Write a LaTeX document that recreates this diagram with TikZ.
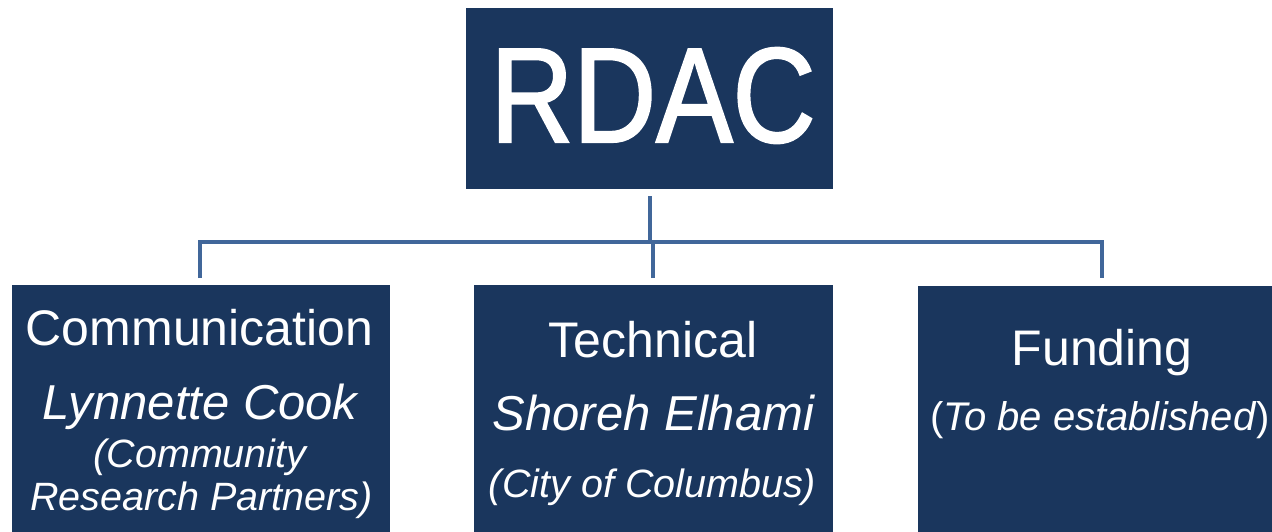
\documentclass[tikz,border=0pt]{standalone}
\usepackage{fontspec}
\usetikzlibrary{calc}
\setmainfont{Liberation Sans}
\newfontfamily\rdacfont[FakeStretch=0.85,FakeBold=1.6]{Liberation Sans}
\definecolor{navy}{HTML}{1A365D}
\definecolor{linkblue}{HTML}{41679A}
\begin{document}
\begin{tikzpicture}[x=1pt,y=-1pt,
  box/.style={draw=none,fill=navy,inner sep=0pt},
  txt/.style={text=white,inner sep=0pt,anchor=base},
  big/.style={txt,font=\fontsize{50}{50}\selectfont},
  mid/.style={txt,font=\fontsize{49}{49}\selectfont\itshape},
  small/.style={txt,font=\fontsize{39.5}{39.5}\selectfont\itshape},
  link/.style={draw=linkblue,line width=4pt}]
\useasboundingbox (0,0) rectangle (1272,532);
% boxes
\node[box,minimum width=367pt,minimum height=181pt] (rdac) at (649.5,98.5) {};
\node[box,minimum width=378pt,minimum height=247pt] (comm) at (201,408.5) {};
\node[box,minimum width=359pt,minimum height=247pt] (tech) at (653.5,408.5) {};
\node[box,minimum width=354pt,minimum height=246pt] (fund) at (1095,409) {};
% texts
\node[txt,font=\fontsize{135}{135}\rdacfont] (rdact) at (653,142) {RDAC};
\node[big] (commt) at (199.5,345) {Communication};
\node[mid] (lynn) at (200,419) {Lynnette Cook};
\node[small] (crp1) at (200,467) {(Community};
\node[small] (crp2) at (201.5,510) {Research Partners)};
\node[big] (techt) at (653,357) {Technical};
\node[mid] (shor) at (653.5,430) {Shoreh Elhami};
\node[small] (city) at (652.5,497) {(City of Columbus)};
\node[big] (fundt) at (1102,365) {Funding};
\node[txt,font=\fontsize{40}{40}\selectfont] (tbe) at (1100,430) {(\textit{To be established})};
% connectors
\coordinate (t0) at ($(rdac.south)+(0.5,7)$);
\coordinate (bus) at (650,242);
\coordinate (bl) at (200,242);
\coordinate (br) at (1102,242);
\coordinate (d1) at (200,278);
\coordinate (d2) at (653,278);
\coordinate (d3) at (1102,278);
\draw[link] (t0) -- (bus);
\draw[link] (d1) -- (bl) -- (br) -- (d3);
\draw[link] (d2) -- (d2 |- bus);
\end{tikzpicture}
\end{document}
